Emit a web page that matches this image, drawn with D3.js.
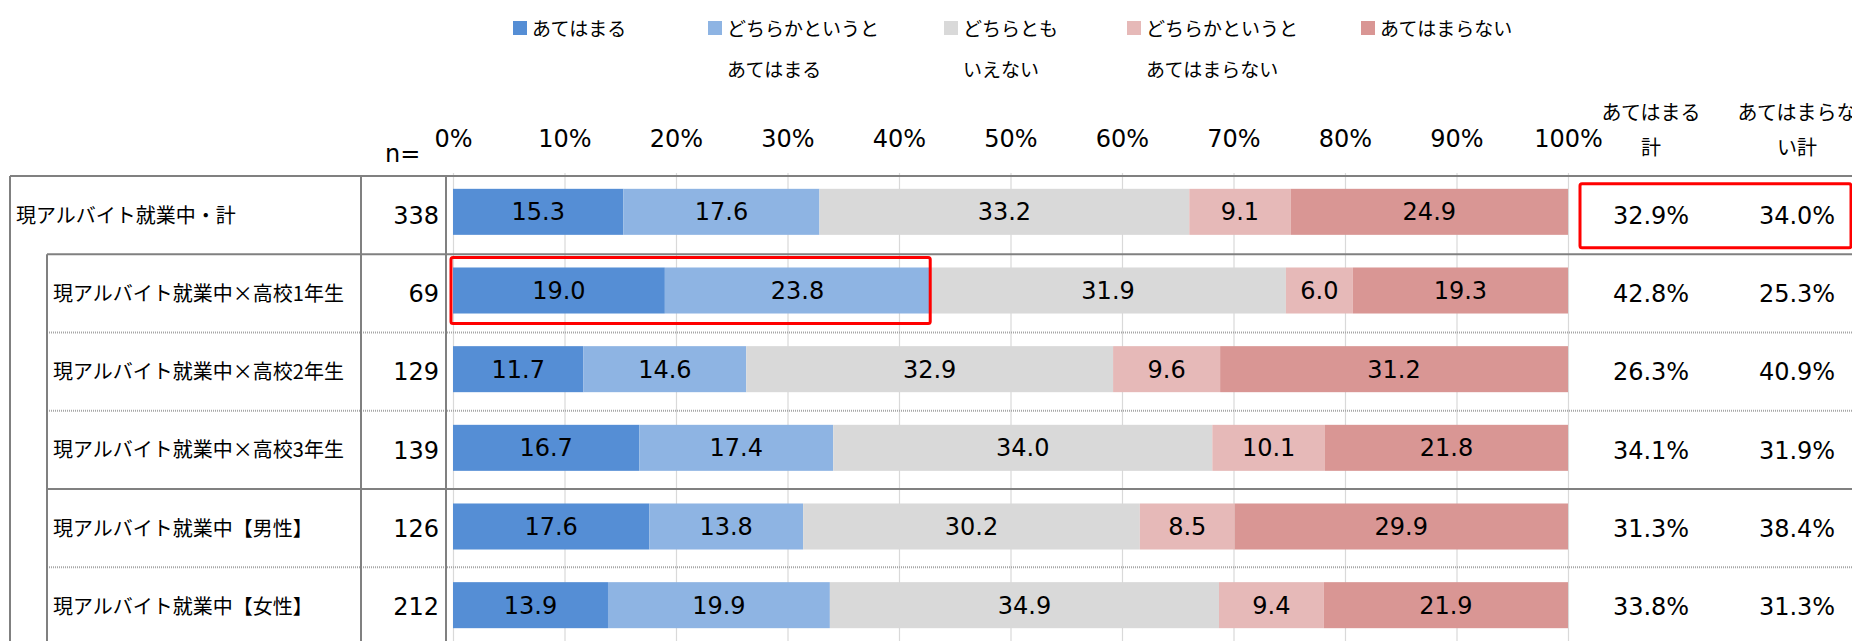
<!DOCTYPE html>
<html lang="ja">
<head>
<meta charset="utf-8">
<script src="https://cdn.jsdelivr.net/npm/d3@7"></script>
<style>
  html, body { margin: 0; padding: 0; background: #fff; }
  svg { display: block; }
  .jp { font-family: "Noto Sans CJK JP", "Noto Sans", sans-serif; }
  .num { font-family: "DejaVu Sans", Verdana, sans-serif; }
</style>
</head>
<body>
<svg id="chart" width="1852" height="641"></svg>
<script>
// ---- data ----
const categories = [
  "現アルバイト就業中・計",
  "現アルバイト就業中×高校1年生",
  "現アルバイト就業中×高校2年生",
  "現アルバイト就業中×高校3年生",
  "現アルバイト就業中【男性】",
  "現アルバイト就業中【女性】"
];
const nValues = [338, 69, 129, 139, 126, 212];

const seriesNames = [
  "あてはまる",
  "どちらかというとあてはまる",
  "どちらともいえない",
  "どちらかというとあてはまらない",
  "あてはまらない"
];
const legendLines = [
  ["あてはまる"],
  ["どちらかというと", "あてはまる"],
  ["どちらとも", "いえない"],
  ["どちらかというと", "あてはまらない"],
  ["あてはまらない"]
];
const colors = ["#558ed5", "#8eb4e3", "#d9d9d9", "#e6b9b8", "#d99694"];

const agree          = [15.3, 19.0, 11.7, 16.7, 17.6, 13.9];
const somewhatAgree  = [17.6, 23.8, 14.6, 17.4, 13.8, 19.9];
const neutral        = [33.2, 31.9, 32.9, 34.0, 30.2, 34.9];
const somewhatDisagr = [9.1, 6.0, 9.6, 10.1, 8.5, 9.4];
const disagree       = [24.9, 19.3, 31.2, 21.8, 29.9, 21.9];

const totalAgree    = [32.9, 42.8, 26.3, 34.1, 31.3, 33.8];
const totalDisagree = [34.0, 25.3, 40.9, 31.9, 38.4, 31.3];
const totalHeaders  = [["あてはまる", "計"], ["あてはまらな", "い計"]];

const tickValues = [0, 0.1, 0.2, 0.3, 0.4, 0.5, 0.6, 0.7, 0.8, 0.9, 1];
const tickLabels = ["0%", "10%", "20%", "30%", "40%", "50%", "60%", "70%", "80%", "90%", "100%"];

// ---- layout ----
const W = 1852, H = 641;
const tableTop = 176;
const colOuter = 10, colInner = 47, colLabelSep = 361, colNSep = 446;
const totalCols = [1651, 1797];
const numFont = 24, jpFont = 20;

const svg = d3.select("#chart");
svg.append("rect").attr("width", W).attr("height", H).attr("fill", "#fff");

const rows = categories.map((c, i) => ({
  cat: c,
  [seriesNames[0]]: agree[i],
  [seriesNames[1]]: somewhatAgree[i],
  [seriesNames[2]]: neutral[i],
  [seriesNames[3]]: somewhatDisagr[i],
  [seriesNames[4]]: disagree[i]
}));

const stacked = d3.stack().keys(seriesNames).offset(d3.stackOffsetExpand)(rows);

const x = d3.scaleLinear().domain([0, 1]).range([453, 1568]);
// table rows
const yRow = d3.scaleBand().domain(categories).range([tableTop, tableTop + 6 * 78.25]);
// bars sit slightly higher in their rows
const yBar = d3.scaleBand().domain(categories).range([172.5, 644.5]).paddingInner(0.415).paddingOuter(0.2075);
const color = d3.scaleOrdinal().domain(seriesNames).range(colors);

// ---- gridlines ----
const grid = svg.append("g").attr("transform", `translate(0,173)`)
  .call(d3.axisTop(x).tickValues(tickValues).tickSize(-(H - 173)).tickFormat(""));
grid.select(".domain").remove();
grid.selectAll("line").attr("stroke", "#d9d9d9").attr("stroke-width", 1.2);

// ---- table lines ----
const lines = svg.append("g");
const solid = (x1, y1, x2, y2) => lines.append("line")
  .attr("x1", x1).attr("y1", y1).attr("x2", x2).attr("y2", y2)
  .attr("stroke", "#808080").attr("stroke-width", 2);
const dotted = (x1, y1, x2, y2) => lines.append("line")
  .attr("x1", x1).attr("y1", y1).attr("x2", x2).attr("y2", y2)
  .attr("stroke", "#a6a6a6").attr("stroke-width", 2).attr("stroke-dasharray", "1 1");

solid(colOuter, tableTop, W, tableTop);
categories.forEach((c, i) => {
  if (i === 0) return;
  const yy = yRow(c);
  if (i === 1 || i === 4) solid(colInner, yy, W, yy);
  else dotted(colInner, yy, W, yy);
});
solid(colOuter, tableTop, colOuter, H);
solid(colInner, yRow(categories[1]), colInner, H);
solid(colLabelSep, tableTop, colLabelSep, H);
solid(colNSep, tableTop, colNSep, H);

// ---- bars ----
const layer = svg.append("g").selectAll("g").data(stacked).join("g")
  .attr("fill", d => color(d.key));
layer.selectAll("rect").data(d => d).join("rect")
  .attr("x", d => x(d[0]))
  .attr("y", d => yBar(d.data.cat))
  .attr("width", d => x(d[1]) - x(d[0]))
  .attr("height", yBar.bandwidth());

// segment value labels
const labelLayer = svg.append("g").attr("class", "num").attr("font-size", numFont)
  .attr("fill", "#000").attr("text-anchor", "middle");
stacked.forEach(s => {
  labelLayer.selectAll(null).data(s).join("text")
    .attr("x", d => (x(d[0]) + x(d[1])) / 2)
    .attr("y", d => yBar(d.data.cat) + yBar.bandwidth() / 2)
    .attr("dy", "0.36em")
    .text(d => d.data[s.key].toFixed(1));
});

// ---- row labels, n, totals ----
const rowMid = c => yRow(c) + yRow.bandwidth() / 2;
svg.append("g").attr("class", "jp").attr("font-size", jpFont).attr("fill", "#000")
  .selectAll("text").data(categories).join("text")
  .attr("x", (d, i) => i === 0 ? 16 : 53)
  .attr("y", d => rowMid(d))
  .attr("dy", "0.37em")
  .text(d => d);

svg.append("g").attr("class", "num").attr("font-size", numFont).attr("fill", "#000")
  .attr("text-anchor", "end")
  .selectAll("text").data(nValues).join("text")
  .attr("x", 439)
  .attr("y", (d, i) => rowMid(categories[i]))
  .attr("dy", "0.36em")
  .text(d => d);

[totalAgree, totalDisagree].forEach((arr, k) => {
  svg.append("g").attr("class", "num").attr("font-size", numFont).attr("fill", "#000")
    .attr("text-anchor", "middle")
    .selectAll("text").data(arr).join("text")
    .attr("x", totalCols[k])
    .attr("y", (d, i) => rowMid(categories[i]))
    .attr("dy", "0.36em")
    .text(d => d.toFixed(1) + "%");
});

// ---- top axis labels ----
const axis = svg.append("g").attr("transform", "translate(0,147)")
  .call(d3.axisTop(x).tickValues(tickValues).tickSize(0).tickPadding(0)
    .tickFormat((d, i) => tickLabels[i]));
axis.select(".domain").remove();
axis.selectAll("text").attr("class", "num").attr("font-size", numFont)
  .attr("fill", "#000").attr("font-family", null);

svg.append("text").attr("class", "num").attr("font-size", numFont)
  .attr("x", 385).attr("y", 162).attr("fill", "#000").text("n=");

// column headers for totals
totalHeaders.forEach((lns, k) => {
  lns.forEach((t, j) => {
    svg.append("text").attr("class", "jp").attr("font-size", jpFont).attr("fill", "#000")
      .attr("text-anchor", "middle")
      .attr("x", totalCols[k]).attr("y", 112.5 + j * 35).attr("dy", "0.37em")
      .text(t);
  });
});

// ---- legend ----
const legendX = [513, 708, 944, 1127, 1361];
const lg = svg.append("g");
seriesNames.forEach((s, i) => {
  lg.append("rect").attr("x", legendX[i]).attr("y", 21).attr("width", 14).attr("height", 14)
    .attr("fill", color(s));
  legendLines[i].forEach((t, j) => {
    lg.append("text").attr("class", "jp").attr("font-size", 19).attr("fill", "#000")
      .attr("x", legendX[i] + 19).attr("y", 28.5 + j * 41).attr("dy", "0.37em")
      .text(t);
  });
});

// ---- highlight frames ----
const hl = svg.append("g").attr("fill", "none").attr("stroke", "#ff0000").attr("stroke-width", 3);
// totals of the overall row
const r0 = categories[0];
hl.append("rect")
  .attr("x", 1580).attr("y", yBar(r0) - 5)
  .attr("width", W - 1 - 1580).attr("height", yBar.bandwidth() + 18)
  .attr("rx", 2);
// "agree" share of the first-year row
const r1 = categories[1];
const r1Top = stacked[1][1][1];
hl.append("rect")
  .attr("x", x(0) - 2).attr("y", yBar(r1) - 10)
  .attr("width", x(r1Top) - x(0) + 2).attr("height", yBar.bandwidth() + 20)
  .attr("rx", 2);
</script>
</body>
</html>
